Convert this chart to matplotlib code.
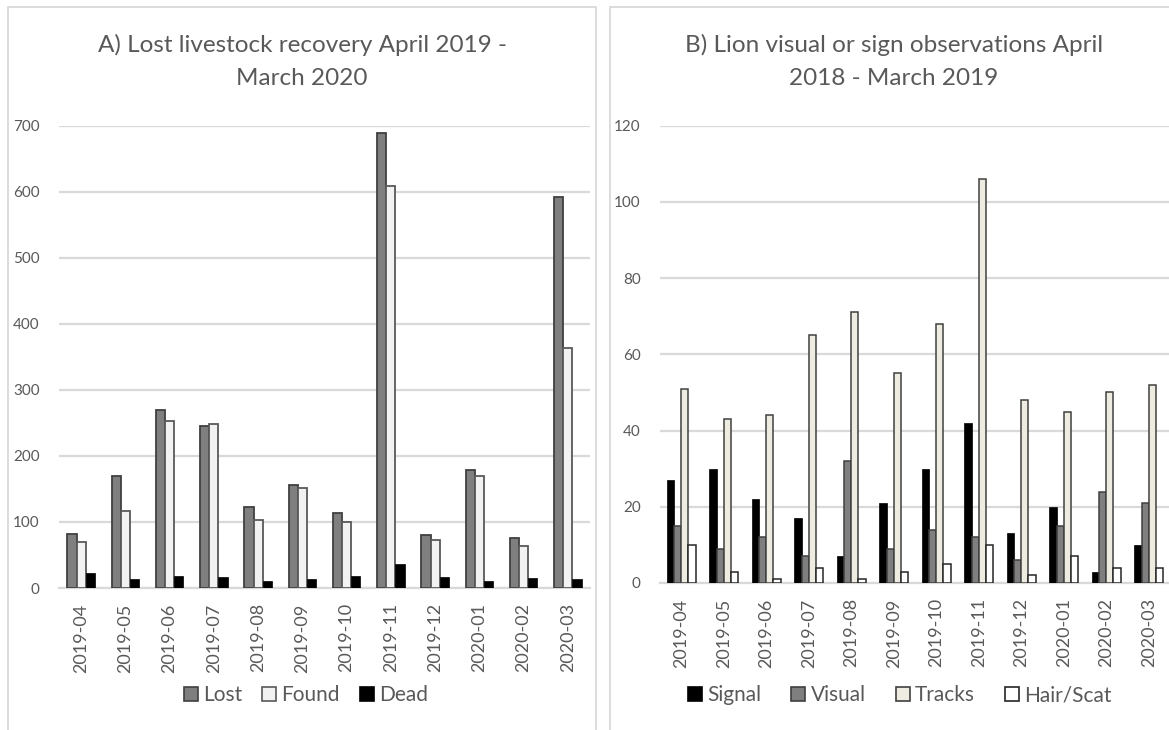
import matplotlib
matplotlib.use("Agg")
import matplotlib.pyplot as plt
import numpy as np
from matplotlib.patches import Rectangle, Patch

plt.rcParams['font.family'] = ['Lato', 'DejaVu Sans']

months = ["2019-04", "2019-05", "2019-06", "2019-07", "2019-08", "2019-09",
          "2019-10", "2019-11", "2019-12", "2020-01", "2020-02", "2020-03"]

# Panel A: lost livestock recovery
lost = [82, 169, 269, 245, 122, 156, 113, 689, 81, 178, 76, 592]
found = [70, 117, 253, 249, 103, 151, 100, 609, 73, 170, 63, 363]
dead = [22, 13, 18, 16, 10, 14, 18, 37, 16, 11, 15, 14]

# Panel B: lion visual or sign observations
signal = [27, 30, 22, 17, 7, 21, 30, 42, 13, 20, 3, 10]
visual = [15, 9, 12, 7, 32, 9, 14, 12, 6, 15, 24, 21]
tracks = [51, 43, 44, 65, 71, 55, 68, 106, 48, 45, 50, 52]
hair_scat = [10, 3, 1, 4, 1, 3, 5, 10, 2, 7, 4, 4]

title_a = ["A) Lost livestock recovery April 2019 -", "March 2020"]
title_b = ["B) Lion visual or sign observations April", "2018 - March 2019"]

TXT = "#595959"
GRID = "#d9d9d9"

W, H = 1169, 730
fig = plt.figure(figsize=(W / 100, H / 100), dpi=100)


def fx(px):
    return px / W


def fy(py):
    return 1 - py / H


# chart frames
fig.patches.append(Rectangle((fx(8), fy(745)), fx(596) - fx(8), fy(7) - fy(745),
                             transform=fig.transFigure, fill=False,
                             edgecolor=GRID, linewidth=1.3, zorder=0))
fig.patches.append(Rectangle((fx(610), fy(745)), fx(1185) - fx(610), fy(7) - fy(745),
                             transform=fig.transFigure, fill=False,
                             edgecolor=GRID, linewidth=1.3, zorder=0))

axA = fig.add_axes([fx(59), fy(588), fx(590) - fx(59), fy(125.7) - fy(588)])
axB = fig.add_axes([fx(660), fy(583), fx(1170) - fx(660), fy(125.7) - fy(583)])


def style(ax, ymax, step):
    ax.set_xlim(-0.5, len(months) - 0.5)
    ax.set_ylim(0, ymax)
    ax.set_yticks(np.arange(0, ymax + 1, step))
    ax.set_xticks(np.arange(len(months)))
    ax.set_xticklabels(months, rotation=90, fontsize=13, color=TXT)
    ax.tick_params(axis='y', length=0, pad=14, labelsize=11, labelcolor=TXT)
    ax.tick_params(axis='x', length=0, pad=11)
    for s in ['top', 'right', 'left']:
        ax.spines[s].set_visible(False)
    ax.spines['bottom'].set_color(GRID)
    ax.spines['bottom'].set_linewidth(1.6)
    ax.grid(axis='y', color=GRID, linewidth=1.6)
    ax.set_axisbelow(True)
    ax.patch.set_alpha(0)


x = np.arange(len(months))

# Panel A bars
wa = 0.208
styles_a = [
    (lost, "Lost", "#7f7f7f", "#404040", 1.3),
    (found, "Found", "#f2f2f2", "#595959", 1.3),
    (dead, "Dead", "#000000", "#000000", 0.5),
]
for i, (vals, name, fc, ec, lw) in enumerate(styles_a):
    axA.bar(x + (i - 1) * wa, vals, width=wa, color=fc, edgecolor=ec,
            linewidth=lw, label=name, zorder=3)
style(axA, 700, 100)

# Panel B bars
wb = 0.168
styles_b = [
    (signal, "Signal", "#000000", "#000000", 0.5),
    (visual, "Visual", "#7f7f7f", "#404040", 1.1),
    (tracks, "Tracks", "#eeece1", "#404040", 1.1),
    (hair_scat, "Hair/Scat", "#ffffff", "#262626", 1.1),
]
for i, (vals, name, fc, ec, lw) in enumerate(styles_b):
    axB.bar(x + (i - 1.5) * wb, vals, width=wb, color=fc, edgecolor=ec,
            linewidth=lw, label=name, zorder=3)
style(axB, 120, 20)

# titles
for cx, lines in [(302, title_a), (894, title_b)]:
    fig.text(fx(cx), fy(52), lines[0], ha='center', va='baseline',
             fontsize=17.5, color=TXT)
    fig.text(fx(cx), fy(85), lines[1], ha='center', va='baseline',
             fontsize=17.5, color=TXT)

# legends
leg_kw = dict(loc='center', frameon=False, fontsize=15, labelcolor=TXT,
              handlelength=0.67, handleheight=0.67, handletextpad=0.25,
              borderaxespad=0, borderpad=0)
hA = [Patch(facecolor=fc, edgecolor=ec, linewidth=1.2) for _, _, fc, ec, _ in styles_a]
fig.legend(hA, [s[1] for s in styles_a], ncol=3, columnspacing=0.95,
           bbox_to_anchor=(fx(306), fy(695)), **leg_kw)
hB = [Patch(facecolor=fc, edgecolor=ec, linewidth=1.2) for _, _, fc, ec, _ in styles_b]
fig.legend(hB, [s[1] for s in styles_b], ncol=4, columnspacing=1.45,
           bbox_to_anchor=(fx(900), fy(695)), **leg_kw)

fig.savefig("out.png", dpi=100)
